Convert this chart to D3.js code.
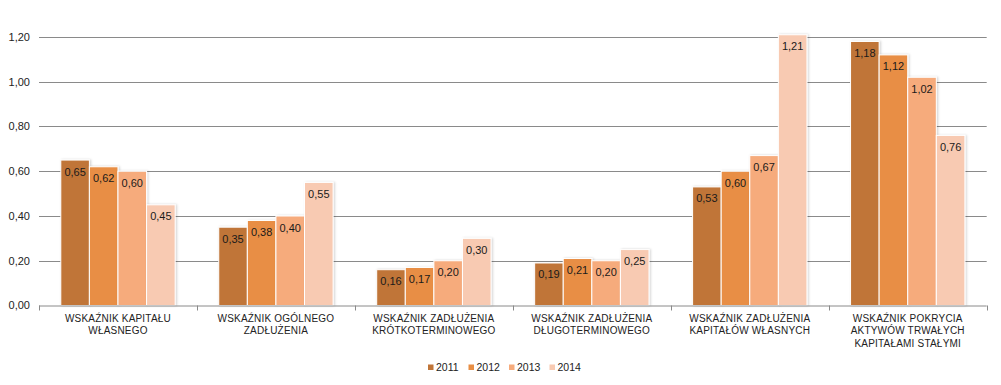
<!DOCTYPE html>
<html><head><meta charset="utf-8">
<script src="https://cdn.jsdelivr.net/npm/d3@7"></script>
<style>
body{margin:0;background:#fff;}
svg{display:block;font-family:"Liberation Sans",Arial,sans-serif;}
</style></head>
<body>
<svg id="chart" width="1001" height="385"></svg>
<script>
const categories = [
  ["WSKAŹNIK KAPITAŁU","WŁASNEGO"],
  ["WSKAŹNIK OGÓLNEGO","ZADŁUŻENIA"],
  ["WSKAŹNIK ZADŁUŻENIA","KRÓTKOTERMINOWEGO"],
  ["WSKAŹNIK ZADŁUŻENIA","DŁUGOTERMINOWEGO"],
  ["WSKAŹNIK ZADŁUŻENIA","KAPITAŁÓW WŁASNYCH"],
  ["WSKAŹNIK POKRYCIA","AKTYWÓW TRWAŁYCH","KAPITAŁAMI STAŁYMI"]
];
const years = ["2011","2012","2013","2014"];
const v2011 = [0.65,0.35,0.16,0.19,0.53,1.18];
const v2012 = [0.62,0.38,0.17,0.21,0.60,1.12];
const v2013 = [0.60,0.40,0.20,0.20,0.67,1.02];
const v2014 = [0.45,0.55,0.30,0.25,1.21,0.76];
const yTicks = [0,0.2,0.4,0.6,0.8,1.0,1.2];
const colors = ["#C07538","#E88E44","#F6AB7C","#F8CAB2"];

const series = [v2011,v2012,v2013,v2014];
const svg = d3.select("#chart");
const mLeft = 39, mRight = 986.7, mTop = 37, mBottom = 305.5;
const fmt = v => d3.format(".2f")(v).replace(".", ",");

const y = d3.scaleLinear().domain([0,1.2]).range([mBottom, mTop]);
const x0 = d3.scaleBand().domain(d3.range(categories.length)).range([mLeft, mRight]).padding(0);
const bw = x0.bandwidth();
const x1 = d3.scaleBand().domain(years).range([bw*0.138, bw*0.862]).padding(0);

const defs = svg.append("defs");
const f = defs.append("filter").attr("id","sh").attr("x","-10%").attr("y","-10%").attr("width","130%").attr("height","120%");
f.append("feDropShadow").attr("dx",1.2).attr("dy",0).attr("stdDeviation",0.8).attr("flood-color","#000").attr("flood-opacity",0.18);

// gridlines
svg.append("g").selectAll("line").data(yTicks.slice(1)).join("line")
  .attr("x1", mLeft).attr("x2", mRight)
  .attr("y1", d => Math.round(y(d))+0.5).attr("y2", d => Math.round(y(d))+0.5)
  .attr("stroke","#8a8a8a").attr("stroke-width",1);

// y tick labels
svg.append("g").selectAll("text").data(yTicks).join("text")
  .attr("x", 30).attr("y", d => y(d)).attr("dy","0.35em")
  .attr("text-anchor","end").attr("font-size","11px").attr("fill","#222")
  .text(fmt);

// bars
const groups = svg.append("g").selectAll("g").data(categories).join("g")
  .attr("transform",(d,i)=>`translate(${x0(i)},0)`);
groups.each(function(c,i){
  const g = d3.select(this);
  years.forEach((yr,j)=>{
    const v = series[j][i];
    g.append("rect")
      .attr("x", x1(yr)).attr("width", x1.bandwidth())
      .attr("y", y(v)).attr("height", mBottom - y(v))
      .attr("fill", colors[j]).attr("stroke","#fff").attr("stroke-width",1)
      .attr("filter","url(#sh)");
  });
  years.forEach((yr,j)=>{
    const v = series[j][i];
    g.append("text")
      .attr("x", x1(yr)+x1.bandwidth()/2).attr("y", y(v)+15.5)
      .attr("text-anchor","middle").attr("font-size","11px").attr("fill","#1a1a1a")
      .text(fmt(v));
  });
});

// x axis line and ticks
svg.append("line").attr("x1",mLeft).attr("x2",mRight).attr("y1",mBottom+0.5).attr("y2",mBottom+0.5)
  .attr("stroke","#8a8a8a");
const tickXs = d3.range(categories.length).map(i=>x0(i)).concat([mRight]);
svg.append("g").selectAll("line").data(tickXs).join("line")
  .attr("x1",d=>Math.round(d)+0.5).attr("x2",d=>Math.round(d)+0.5)
  .attr("y1",mBottom).attr("y2",mBottom+5).attr("stroke","#8a8a8a");

// category labels
groups.each(function(c,i){
  const t = d3.select(this).append("text")
    .attr("text-anchor","middle").attr("font-size","10px").attr("fill","#222")
    .attr("letter-spacing","0.2px");
  c.forEach((line,k)=>{
    t.append("tspan").attr("x", bw/2).attr("y", 321.5 + k*12.5).text(line);
  });
});

// legend
const lg = svg.append("g").selectAll("g").data(years).join("g")
  .attr("transform",(d,i)=>`translate(${428 + i*40.5},0)`);
lg.append("rect").attr("x",0).attr("y",364.5).attr("width",5.5).attr("height",5.5)
  .attr("fill",(d,i)=>colors[i]);
lg.append("text").attr("x",8).attr("y",367.5).attr("dy","0.35em")
  .attr("font-size","10.5px").attr("fill","#222").text(d=>d);
</script>
</body></html>
